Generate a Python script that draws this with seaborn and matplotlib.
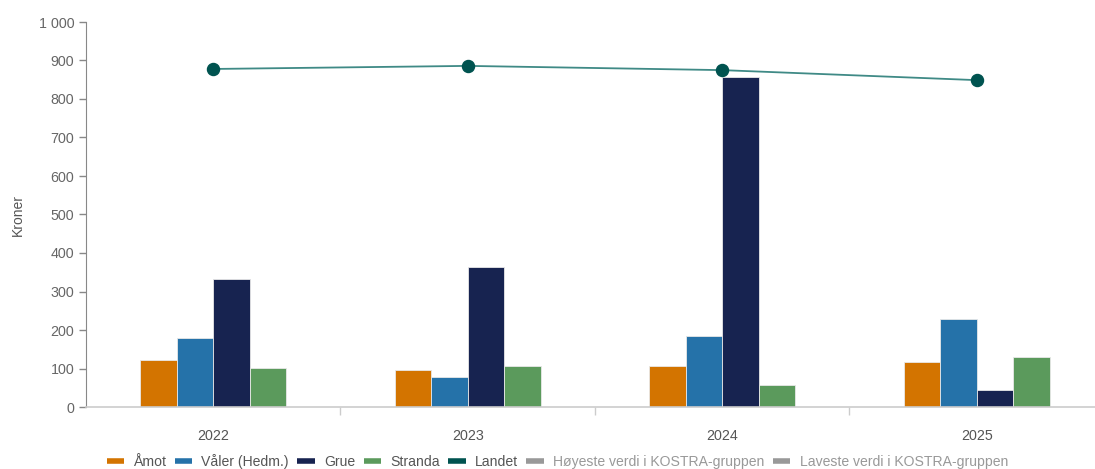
import numpy as np
import pandas as pd
import matplotlib
matplotlib.use("Agg")
import matplotlib.pyplot as plt
from matplotlib.lines import Line2D
import seaborn as sns

years = ["2022", "2023", "2024", "2025"]
amot = [122, 96, 106, 117]
valer = [179, 78, 184, 229]
grue = [332, 364, 857, 44]
stranda = [101, 106, 57, 130]
landet = [878, 886, 875, 849]

kommuner = ["Åmot", "Våler (Hedm.)", "Grue", "Stranda"]
farger = ["#D37400", "#2572A9", "#172350", "#5B9A5C"]

df = pd.DataFrame({
    "år": years * 4,
    "kommune": np.repeat(kommuner, 4),
    "kroner": amot + valer + grue + stranda,
})

sns.set_style("white")
plt.rcParams["font.family"] = ["Liberation Sans", "DejaVu Sans"]

fig = plt.figure(figsize=(10.95, 4.69), dpi=100)
ax = fig.add_axes([86 / 1095, 1 - 407 / 469, 1 - 86 / 1095, 385 / 469])

sns.barplot(data=df, x="år", y="kroner", hue="kommune", palette=farger,
            width=0.573, gap=0, edgecolor="#e8e8e8", linewidth=0.6,
            saturation=1, legend=False, ax=ax)

ax.plot(range(4), landet, color="#3f8a86", lw=1.3, zorder=3)
ax.scatter(range(4), landet, s=75, color="#005350", zorder=4)

ax.set_ylim(0, 1000)
ax.set_xlim(-0.5, 3.465)
ax.set_yticks(range(0, 1001, 100))
ax.set_yticklabels([f"{v:,}".replace(",", " ") for v in range(0, 1001, 100)])
ax.set_xticks([0, 1, 2, 3])
ax.set_xticklabels(years)
ax.set_xticks([0.5, 1.5, 2.5], minor=True)
ax.tick_params(axis="x", which="major", length=0, pad=16, labelsize=10.3,
               labelcolor="#555555", bottom=True)
ax.tick_params(axis="x", which="minor", length=6, color="#cccccc", width=1, bottom=True)
ax.tick_params(axis="y", length=5, color="#888888", width=1, labelsize=10.3,
               labelcolor="#666666", left=True)
ax.set_xlabel("")
ax.set_ylabel("Kroner", fontsize=10, color="#555555", labelpad=10)

for s in ["top", "right"]:
    ax.spines[s].set_visible(False)
ax.spines["left"].set_color("#888888")
ax.spines["bottom"].set_color("#cccccc")
ax.spines["bottom"].set_linewidth(1.2)

handles = [Line2D([], [], color=c, lw=4, solid_capstyle="butt") for c in farger]
handles.append(Line2D([], [], color="#005350", lw=4, solid_capstyle="butt"))
handles += [Line2D([], [], color="#999999", lw=4, solid_capstyle="butt") for _ in range(2)]
labels = kommuner + ["Landet", "Høyeste verdi i KOSTRA-gruppen", "Laveste verdi i KOSTRA-gruppen"]
leg = fig.legend(handles, labels, loc="lower center", bbox_to_anchor=(0.509, -0.027),
                 ncol=7, frameon=False, fontsize=10.1, handlelength=1.25,
                 handletextpad=0.65, columnspacing=0.6)
for i, t in enumerate(leg.get_texts()):
    t.set_color("#999999" if i >= 5 else "#555555")

fig.savefig("out.png", dpi=100)
